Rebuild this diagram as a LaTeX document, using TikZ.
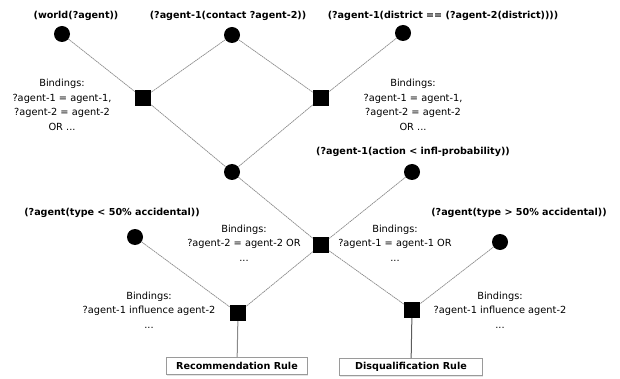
\documentclass[tikz,border=0pt]{standalone}
\usepackage{fontspec}
\setmainfont{DejaVu Sans}
\usetikzlibrary{shadows}
\definecolor{linegray}{HTML}{8A8A8A}
\definecolor{boxgray}{HTML}{9A9A9A}
\definecolor{bk70}{HTML}{5C5C5C}
\tikzset{
  alphanode/.style={
    circle, fill=black, minimum size=16pt, inner sep=0pt
  },
  betanode/.style={
    rectangle, fill=black, minimum size=16pt, inner sep=0pt
  },
  patlabel/.style={
    font=\fontsize{9.6}{12}\selectfont\bfseries
  },
  bindlabel/.style={
    font=\fontsize{9.8}{14.5}\selectfont, align=center
  },
  rulebox/.style={
    rectangle, draw=boxgray, line width=0.8pt, fill=white,
    minimum width=141pt, minimum height=17pt, inner sep=2pt,
    font=\fontsize{9.6}{12}\selectfont\bfseries,
    drop shadow={shadow xshift=0pt, shadow yshift=-1.2pt, fill=gray!40}
  },
  joinline/.style={
    draw=linegray, dash pattern=on 1.6pt off 0.6pt, line width=0.7pt
  },
  ruleline/.style={
    draw=#1, line width=1pt
  },
  ruleline/.default=linegray,
}

\begin{document}
\begin{tikzpicture}[x=1pt, y=1pt]
  \useasboundingbox (0,0) rectangle (620,-379);
  % alpha memory nodes
  \node[alphanode] (world) at (62,-34) {};
  \node[alphanode] (contact) at (232,-35) {};
  \node[alphanode] (district) at (403,-33) {};
  \node[alphanode] (join) at (232,-172) {};
  \node[alphanode] (action) at (412,-172) {};
  \node[alphanode] (typelow) at (135,-237) {};
  \node[alphanode] (typehigh) at (500,-242) {};
  \node[patlabel] (world-lbl) at (76,-16) {(world(?agent))};
  \node[patlabel] (contact-lbl) at (228,-16) {(?agent-1(contact ?agent-2))};
  \node[patlabel] (district-lbl) at (443,-16) {(?agent-1(district == (?agent-2(district))))};
  \node[patlabel] (action-lbl) at (413,-152) {(?agent-1(action < infl-probability))};
  \node[patlabel] (typelow-lbl) at (112,-213) {(?agent(type < 50\% accidental))};
  \node[patlabel] (typehigh-lbl) at (519,-213) {(?agent(type > 50\% accidental))};
  % beta nodes
  \node[betanode] (betaA) at (143,-98) {};
  \node[betanode] (betaB) at (321,-98) {};
  \node[betanode] (betaC) at (321,-245) {};
  \node[betanode] (betaD) at (238,-313) {};
  \node[betanode] (betaE) at (412,-310) {};
  \node[bindlabel] (bindA) at (62,-105) {Bindings:\\?agent-1 = agent-1,\\?agent-2 = agent-2\\OR ...};
  \node[bindlabel] (bindB) at (413,-105) {Bindings:\\?agent-1 = agent-1,\\?agent-2 = agent-2\\OR ...};
  \node[bindlabel] (bindC) at (244,-243) {Bindings:\\?agent-2 = agent-2 OR\\...};
  \node[bindlabel] (bindC2) at (395,-243) {Bindings:\\?agent-1 = agent-1 OR\\...};
  \node[bindlabel] (bindD) at (149,-310) {Bindings:\\?agent-1 influence agent-2\\...};
  \node[bindlabel] (bindE) at (500,-310) {Bindings:\\?agent-1 influence agent-2\\...};
  % rules
  \node[rulebox] (recrule) at (237,-366) {Recommendation Rule};
  \node[rulebox, minimum width=143pt] (disrule) at (411,-367) {Disqualification Rule};
  % connectors
  \draw[joinline] (world) -- (betaA);
  \draw[joinline] (contact) -- (betaA);
  \draw[joinline] (contact) -- (betaB);
  \draw[joinline] (district) -- (betaB);
  \draw[joinline] (betaA) -- (join);
  \draw[joinline] (betaB) -- (join);
  \draw[joinline] (join) -- (betaC);
  \draw[joinline] (action) -- (betaC);
  \draw[joinline] (betaC) -- (betaD);
  \draw[joinline] (typelow) -- (betaD);
  \draw[joinline] (betaC) -- (betaE);
  \draw[joinline] (typehigh) -- (betaE);
  \draw[ruleline] (betaD) -- (recrule);
  \draw[ruleline=bk70] (betaE) -- (disrule);
\end{tikzpicture}
\end{document}
